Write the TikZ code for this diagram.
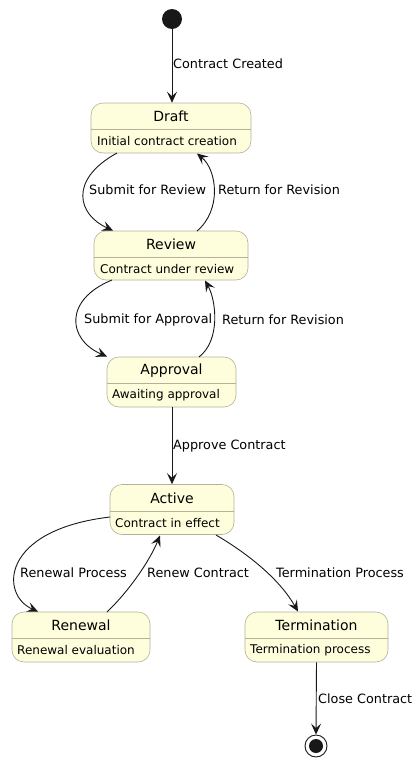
\documentclass[tikz,border=0pt]{standalone}
\usepackage{fontspec}
\setmainfont{DejaVu Sans}
\usetikzlibrary{arrows.meta}
\definecolor{stfill}{HTML}{FEFEDD}
\definecolor{stborder}{HTML}{B5B09A}
\definecolor{ink}{HTML}{181818}
\tikzset{
  statebox/.style={draw=stborder, fill=stfill, rounded corners=12pt, line width=0.6pt, inner sep=0pt},
  sttitle/.style={font=\fontsize{14}{16}\selectfont, text=black, inner sep=0pt},
  stdesc/.style={font=\fontsize{12}{14}\selectfont, text=black, inner sep=0pt, anchor=west},
  divline/.style={draw=stborder, line width=0.6pt},
  conn/.style={draw=ink, line width=0.9pt, -{Stealth[length=11pt,width=10pt,inset=4.5pt]}},
  elabel/.style={font=\fontsize{12.8}{14}\selectfont, text=black, inner sep=0pt, anchor=west}
}
\begin{document}
\begin{tikzpicture}[x=1pt,y=-1pt]
\useasboundingbox (0,0) rectangle (420,766);
% start
\node[circle, fill=ink, minimum size=20pt, inner sep=0pt] (start) at (172,19) {};
% states
\node[statebox, minimum width=160pt, minimum height=50pt] (draft) at (171,128) {};
\node[statebox, minimum width=154pt, minimum height=49pt] (review) at (171,255.5) {};
\node[statebox, minimum width=129pt, minimum height=50pt] (approval) at (171.5,382) {};
\node[statebox, minimum width=124pt, minimum height=50pt] (active) at (172,509.5) {};
\node[statebox, minimum width=138pt, minimum height=50pt] (renewal) at (81,637) {};
\node[statebox, minimum width=143pt, minimum height=50pt] (termination) at (316.5,637) {};
% end
\node[circle, draw=ink, line width=0.9pt, fill=white, minimum size=22pt, inner sep=0pt] (end) at (316,746) {};
\node[circle, fill=ink, minimum size=14pt, inner sep=0pt] (endin) at (316,746) {};
% dividers
\draw[divline] (91,129) -- (251,129);
\draw[divline] (94,257) -- (248,257);
\draw[divline] (107,383) -- (236,383);
\draw[divline] (110,511) -- (234,511);
\draw[divline] (12,638) -- (150,638);
\draw[divline] (245,638) -- (388,638);
% titles
\node[sttitle] (t1) at (171,116) {Draft};
\node[sttitle] (t2) at (171,244) {Review};
\node[sttitle] (t3) at (171.5,371) {Approval};
\node[sttitle] (t4) at (172,498) {Active};
\node[sttitle] (t5) at (81,625) {Renewal};
\node[sttitle] (t6) at (316.5,625) {Termination};
% descriptions
\node[stdesc] (d1) at (97,141) {Initial contract creation};
\node[stdesc] (d2) at (100,269) {Contract under review};
\node[stdesc] (d3) at (112,395) {Awaiting approval};
\node[stdesc] (d4) at (115,523) {Contract in effect};
\node[stdesc] (d5) at (17,650) {Renewal evaluation};
\node[stdesc] (d6) at (250,650) {Termination process};
% connectors
\draw[conn] (start.south) -- (draft.north -| start.south);
\node[elabel] (l1) at (173,64) {Contract Created};

\draw[conn] (117,153) .. controls (68,180) and (78,215) .. (113,230.5);
\node[elabel] (l2) at (89,190) {Submit for Review};

\draw[conn] (197,231) .. controls (222,210) and (217,170) .. (197,153.5);
\node[elabel] (l3) at (218,190) {Return for Revision};

\draw[conn] (112,280) .. controls (63,300) and (68,340) .. (107,356.5);
\node[elabel] (l4) at (84,320) {Submit for Approval};

\draw[conn] (199,357) .. controls (221,340) and (216,300) .. (205,280.5);
\node[elabel] (l5) at (222,320) {Return for Revision};

\draw[conn] (approval.south -| active.north) -- (active.north);
\node[elabel] (l6) at (173,446) {Approve Contract};

\draw[conn] (110,517) .. controls (0,530) and (0,595) .. (38,611.5);
\node[elabel] (l7) at (20,573) {Renewal Process};

\draw[conn] (107,612) .. controls (130,590) and (150,560) .. (160,535.5);
\node[elabel] (l8) at (147,573) {Renew Contract};

\draw[conn] (216,535) .. controls (250,555) and (280,580) .. (298,611.5);
\node[elabel] (l9) at (276,573) {Termination Process};

\draw[conn] (termination.south) -- (end.north);
\node[elabel] (l10) at (318,699) {Close Contract};
\end{tikzpicture}
\end{document}
